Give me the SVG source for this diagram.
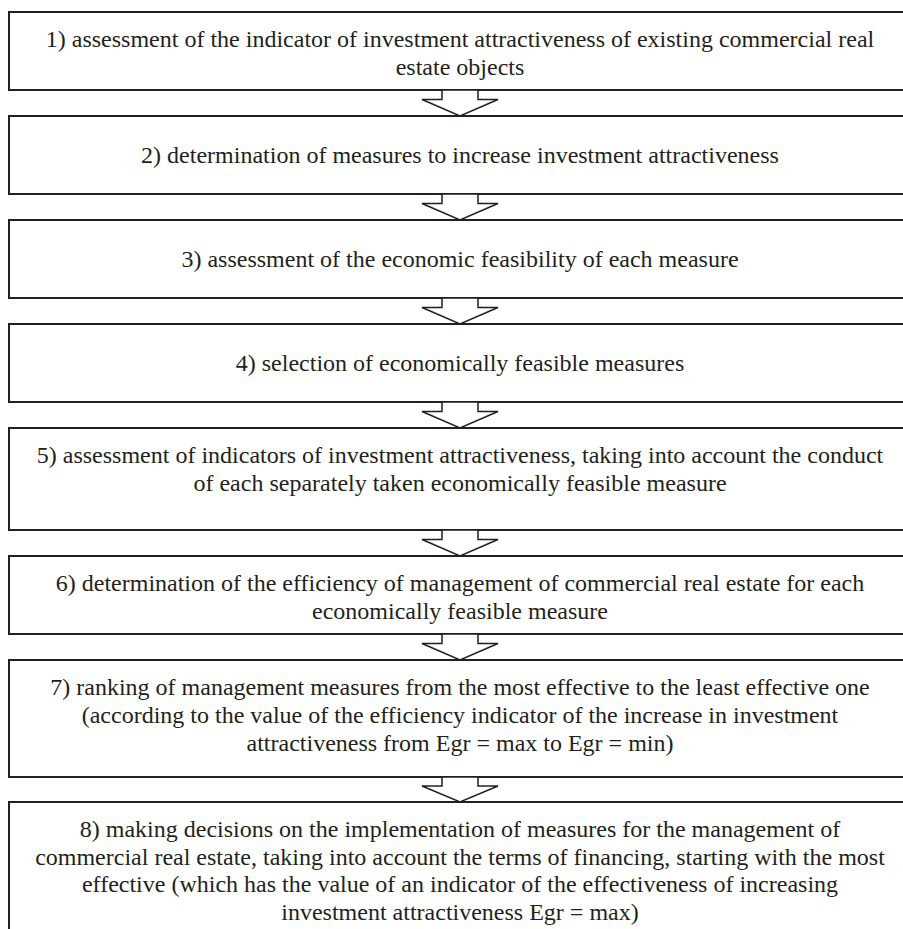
<svg xmlns="http://www.w3.org/2000/svg" width="903" height="929" viewBox="0 0 903 929">
<style>
.box{fill:#fff;stroke:#231f20;stroke-width:2}
.arr{fill:#fff;stroke:#231f20;stroke-width:1.5;stroke-linejoin:miter}
.t{font-family:'Liberation Serif',serif;font-size:24px;fill:#231f20;text-anchor:middle}
</style>
<rect width="903" height="929" fill="#fff"/>
<g id="node1"><rect class="box" x="9" y="12" width="902" height="78"/>
<text class="t" font-family="Liberation Serif" x="460" y="47">1) assessment of the indicator of investment attractiveness of existing commercial real</text>
<text class="t" font-family="Liberation Serif" x="460" y="75">estate objects</text></g>
<g id="node2"><rect class="box" x="9" y="116" width="902" height="78"/>
<text class="t" font-family="Liberation Serif" x="460" y="163">2) determination of measures to increase investment attractiveness</text></g>
<g id="node3"><rect class="box" x="9" y="220" width="902" height="78"/>
<text class="t" font-family="Liberation Serif" x="460" y="267">3) assessment of the economic feasibility of each measure</text></g>
<g id="node4"><rect class="box" x="9" y="324" width="902" height="78"/>
<text class="t" font-family="Liberation Serif" x="460" y="371">4) selection of economically feasible measures</text></g>
<g id="node5"><rect class="box" x="9" y="428" width="902" height="102"/>
<text class="t" font-family="Liberation Serif" x="460" y="463">5) assessment of indicators of investment attractiveness, taking into account the conduct</text>
<text class="t" font-family="Liberation Serif" x="460" y="491">of each separately taken economically feasible measure</text></g>
<g id="node6"><rect class="box" x="9" y="556" width="902" height="78"/>
<text class="t" font-family="Liberation Serif" x="460" y="591">6) determination of the efficiency of management of commercial real estate for each</text>
<text class="t" font-family="Liberation Serif" x="460" y="619">economically feasible measure</text></g>
<g id="node7"><rect class="box" x="9" y="660" width="902" height="117"/>
<text class="t" font-family="Liberation Serif" x="460" y="695">7) ranking of management measures from the most effective to the least effective one</text>
<text class="t" font-family="Liberation Serif" x="460" y="723">(according to the value of the efficiency indicator of the increase in investment</text>
<text class="t" font-family="Liberation Serif" x="460" y="751">attractiveness from Egr = max to Egr = min)</text></g>
<g id="node8"><rect class="box" x="9" y="802" width="902" height="140"/>
<text class="t" font-family="Liberation Serif" x="460" y="837">8) making decisions on the implementation of measures for the management of</text>
<text class="t" font-family="Liberation Serif" x="460" y="865">commercial real estate, taking into account the terms of financing, starting with the most</text>
<text class="t" font-family="Liberation Serif" x="460" y="892">effective (which has the value of an indicator of the effectiveness of increasing</text>
<text class="t" font-family="Liberation Serif" x="460" y="920">investment attractiveness Egr = max)</text></g>
<g id="connectors">
<polygon class="arr" points="442,90 478,90 478,99.5 498,99.5 460,116 422,99.5 442,99.5"/>
<polygon class="arr" points="442,194 478,194 478,203.5 498,203.5 460,220 422,203.5 442,203.5"/>
<polygon class="arr" points="442,298 478,298 478,307.5 498,307.5 460,324 422,307.5 442,307.5"/>
<polygon class="arr" points="442,402 478,402 478,411.5 498,411.5 460,428 422,411.5 442,411.5"/>
<polygon class="arr" points="442,530 478,530 478,539.5 498,539.5 460,556 422,539.5 442,539.5"/>
<polygon class="arr" points="442,634 478,634 478,643.5 498,643.5 460,660 422,643.5 442,643.5"/>
<polygon class="arr" points="442,777 478,777 478,786 498,786 460,802 422,786 442,786"/>
</g>
</svg>
